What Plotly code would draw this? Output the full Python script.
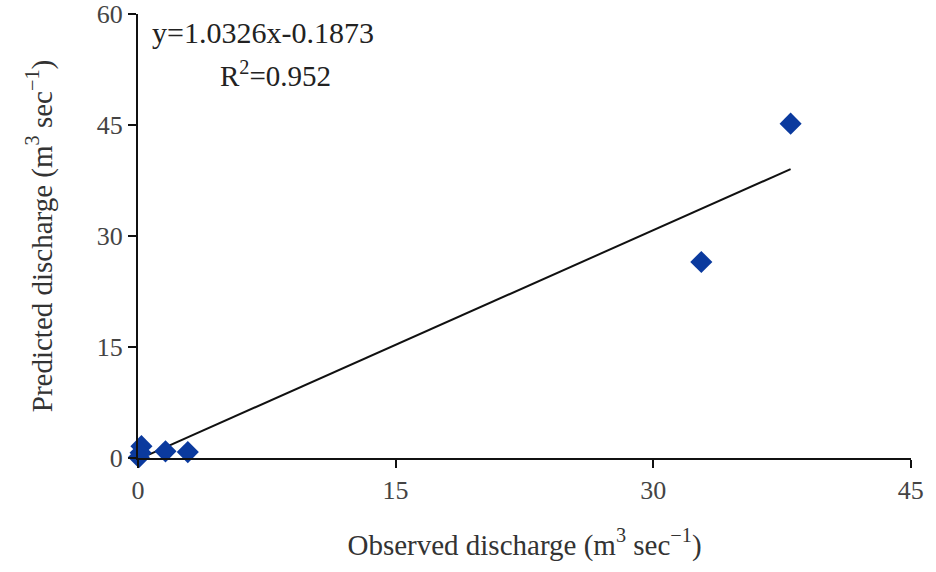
import plotly.graph_objects as go

observed = [0.2, 0.15, 0.05, 1.6, 2.9, 32.8, 38.0]
predicted = [1.6, 0.7, 0.1, 0.9, 0.8, 26.5, 45.2]
slope, intercept = 1.0326, -0.1873
fit_x = [0.6, 38.0]
fit_y = [slope * v + intercept for v in fit_x]
tick_vals_x = [0, 15, 30, 45]
tick_vals_y = [0, 15, 30, 45, 60]

FONT = "Liberation Serif"
fig = go.Figure()
fig.add_trace(go.Scatter(x=fit_x, y=fit_y, mode="lines",
                         line=dict(color="#111111", width=2), cliponaxis=False,
                         showlegend=False))
fig.add_trace(go.Scatter(x=observed, y=predicted, mode="markers",
                         marker=dict(symbol="diamond", size=17, color="#0b3a9e"),
                         cliponaxis=False, showlegend=False))

fig.add_annotation(x=0.016, y=1.0, xref="paper", yref="paper", xanchor="left", yanchor="top",
                   text="y=1.0326x-0.1873", showarrow=False,
                   font=dict(family=FONT, size=30, color="#222"))
fig.add_annotation(x=0.178, y=0.91, xref="paper", yref="paper", xanchor="center", yanchor="top",
                   text="R<sup>2</sup>=0.952", showarrow=False,
                   font=dict(family=FONT, size=29, color="#222"))

fig.update_layout(
    width=936, height=572,
    margin=dict(l=138, r=22, t=14, b=114),
    plot_bgcolor="white", paper_bgcolor="white",
    font=dict(family=FONT, size=26, color="#444"),
    xaxis=dict(range=[0, 45.01], tickvals=tick_vals_x, showgrid=False, zeroline=False,
               showline=True, linecolor="#111", linewidth=2,
               ticks="outside", ticklen=8, tickwidth=2, tickcolor="#111",
               title=dict(text="Observed discharge (m<sup>3</sup> sec<sup>−1</sup>)",
                          font=dict(size=29, color="#333"), standoff=30)),
    yaxis=dict(range=[0, 60.02], tickvals=tick_vals_y, showgrid=False, zeroline=False,
               showline=True, linecolor="#111", linewidth=2, automargin=False,
               ticks="outside", ticklen=8, tickwidth=2, tickcolor="#111",
               title=dict(text="Predicted discharge (m<sup>3</sup> sec<sup>−1</sup>)",
                          font=dict(size=29, color="#333"), standoff=36)),
)
fig.write_html("out.html")
